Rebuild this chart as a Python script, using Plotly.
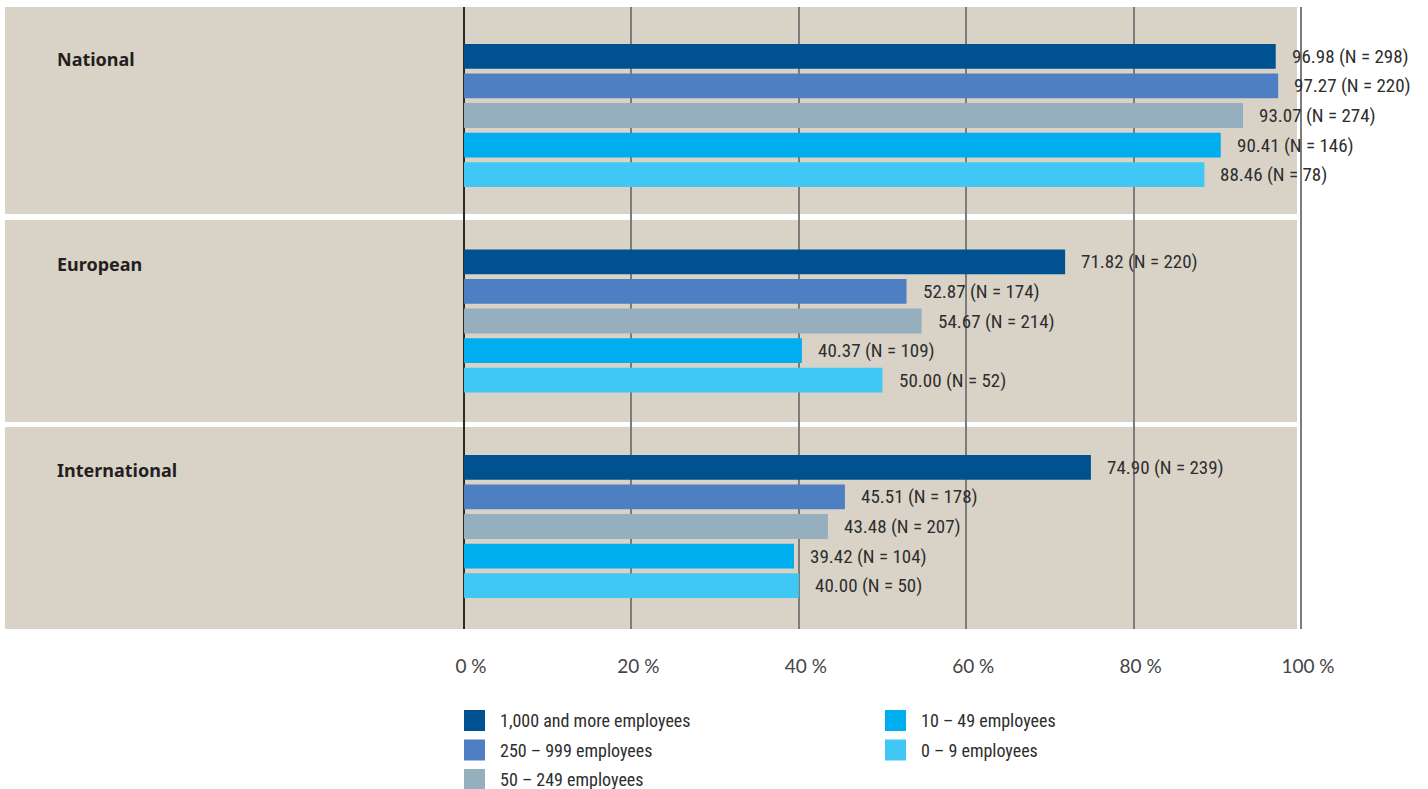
import plotly.graph_objects as go

# ---- data -------------------------------------------------------------
regions = ["National", "European", "International"]

size_classes = [
    "1,000 and more employees",
    "250 – 999 employees",
    "50 – 249 employees",
    "10 – 49 employees",
    "0 – 9 employees",
]

share_1000_plus = [96.98, 71.82, 74.90]
share_250_999 = [97.27, 52.87, 45.51]
share_50_249 = [93.07, 54.67, 43.48]
share_10_49 = [90.41, 40.37, 39.42]
share_0_9 = [88.46, 50.00, 40.00]

n_1000_plus = [298, 220, 239]
n_250_999 = [220, 174, 178]
n_50_249 = [274, 214, 207]
n_10_49 = [146, 109, 104]
n_0_9 = [78, 52, 50]

tick_values = [0, 20, 40, 60, 80, 100]
tick_labels = ["0 %", "20 %", "40 %", "60 %", "80 %", "100 %"]

# ---- styling ----------------------------------------------------------
colors = ["#00518f", "#4f7fc3", "#95afbe", "#00adee", "#40c7f3"]
panel_color = "#d9d3c7"
text_color = "#2e2e2e"
narrow_font = "Roboto Condensed, Liberation Sans Narrow, Roboto, sans-serif"
label_font = "Noto Sans, Open Sans, sans-serif"
tick_font = "Lato, Open Sans, sans-serif"

W, H = 1428, 789
M_L, M_R, M_T, M_B = 5, 118, 7, 160
PLOT_W = W - M_L - M_R
PLOT_H = H - M_T - M_B

BARGAP = 0.28
BARGROUPGAP = 0.16

shares = [share_1000_plus, share_250_999, share_50_249, share_10_49, share_0_9]
counts = [n_1000_plus, n_250_999, n_50_249, n_10_49, n_0_9]


def px_x(px):
    return (px - M_L) / PLOT_W


def px_y(py):
    return (H - M_B - py) / PLOT_H


fig = go.Figure()

for name, color, vals in zip(size_classes, colors, shares):
    fig.add_trace(go.Bar(
        x=vals, y=regions, orientation="h", name=name,
        marker=dict(color=color, line=dict(width=0)),
        showlegend=False, hoverinfo="x+name",
    ))

# value labels beside each bar, positioned at the bar's slot inside its group
n_series = len(size_classes)
group_w = 1 - BARGAP
slot = group_w / n_series
annotations = []
for k, (vals, ns) in enumerate(zip(shares, counts)):
    offset = -group_w / 2 + slot * (k + 0.5)
    for gi, (v, n) in enumerate(zip(vals, ns)):
        annotations.append(dict(
            x=v, y=gi + offset, xref="x", yref="y",
            text=f"{v:.2f} (N = {n})", showarrow=False,
            xanchor="left", yanchor="middle", xshift=14,
            font=dict(family=narrow_font, size=19, color=text_color),
        ))

# region headings in the upper-left of each panel
for gi, region in enumerate(regions):
    annotations.append(dict(
        x=px_x(55), y=gi, xref="paper", yref="y",
        text=f"<b>{region}</b>", showarrow=False,
        xanchor="left", yanchor="middle", yshift=57,
        font=dict(family=label_font, size=18, color="#231f20"),
    ))

# shaded panels behind each region
shapes = []
panel_edges = [(7, 214), (220, 422), (427, 629)]
for top, bottom in panel_edges:
    shapes.append(dict(
        type="rect", xref="paper", yref="paper",
        x0=px_x(5), x1=px_x(1297), y0=px_y(bottom), y1=px_y(top),
        fillcolor=panel_color, line=dict(width=0), layer="below",
    ))

# legend: two columns of colour swatches
for i, (name, color) in enumerate(zip(size_classes, colors)):
    col, row = divmod(i, 3)
    sx = 464 + col * 421
    sy = 710 + row * 29.5
    shapes.append(dict(
        type="rect", xref="paper", yref="paper",
        x0=px_x(sx), x1=px_x(sx + 21), y0=px_y(sy + 21), y1=px_y(sy),
        fillcolor=color, line=dict(width=0), layer="above",
    ))
    annotations.append(dict(
        x=px_x(sx + 34), y=px_y(sy + 10.5), xref="paper", yref="paper",
        text=name, showarrow=False, xanchor="left", yanchor="middle",
        font=dict(family=narrow_font, size=18, color=text_color),
    ))

scale = (1301 - 464) / 100.0
x_min = -(464 - M_L) / scale
x_max = (M_L + PLOT_W - 464) / scale

pitch = 205.5
c_top = -(115.5 - M_T) / pitch
c_bot = (H - M_B - 115.5) / pitch

fig.update_layout(
    width=W, height=H,
    margin=dict(l=M_L, r=M_R, t=M_T, b=M_B),
    paper_bgcolor="white", plot_bgcolor="white",
    barmode="group", bargap=BARGAP, bargroupgap=BARGROUPGAP,
    showlegend=False,
    shapes=shapes, annotations=annotations,
    xaxis=dict(
        range=[x_min, x_max], tickvals=tick_values, ticktext=tick_labels,
        showgrid=True, gridcolor="#7c7c7c", gridwidth=1.5,
        zeroline=True, zerolinecolor="#2a2a2a", zerolinewidth=1.5,
        showline=False, ticks="",
        tickfont=dict(family=tick_font, size=19, color="#444444"),
        ticklabelstandoff=24, ticklabelshift=7,
        fixedrange=True,
    ),
    yaxis=dict(
        type="category", categoryarray=regions, categoryorder="array",
        range=[c_bot, c_top], showgrid=False, zeroline=False,
        showticklabels=False, ticks="", showline=False, fixedrange=True,
    ),
)

fig.write_html("out.html")
